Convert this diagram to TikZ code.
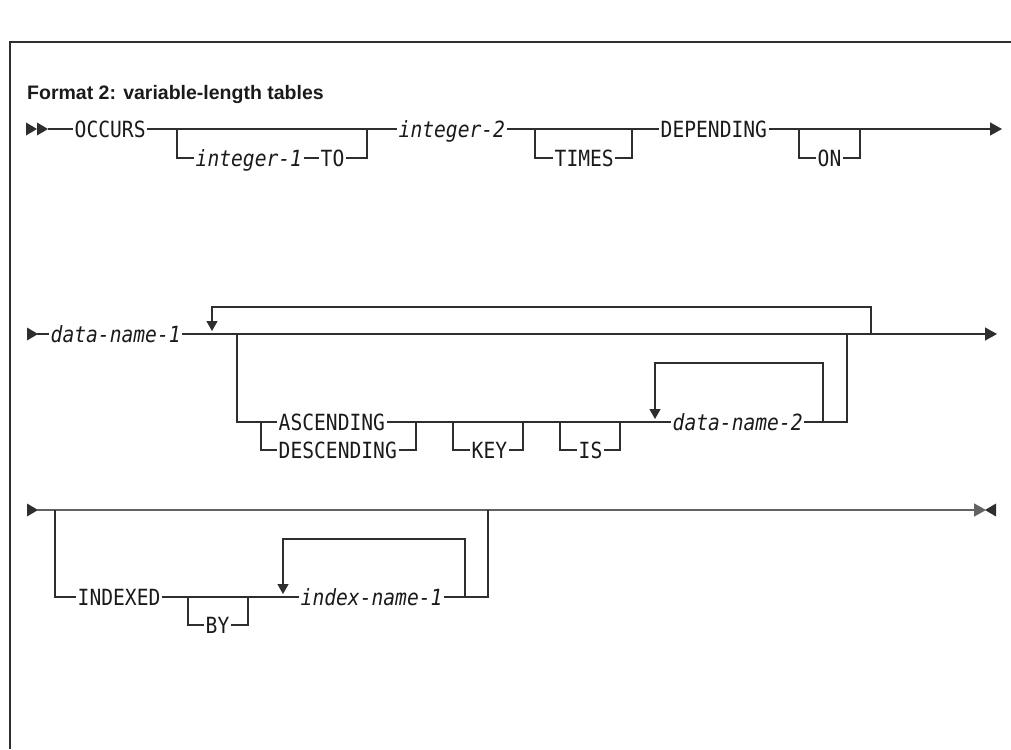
\documentclass[tikz,border=0pt]{standalone}
\usepackage{fontspec}
\usepackage{xcolor}
\usepackage{tikz}
\usetikzlibrary{arrows.meta,positioning,calc}
\newfontfamily\rrfont{DejaVu Sans Mono}[FakeStretch=0.88,ItalicFont={DejaVu Sans Mono Oblique}]
\newfontfamily\headfont{Liberation Sans}
\definecolor{ink}{HTML}{1A1A1A}
\definecolor{railc}{HTML}{2E2E2E}
\definecolor{railgray}{HTML}{626262}
\tikzset{
  rr/.style={font=\rrfont\fontsize{22.3}{26}\selectfont,text=ink,inner sep=0pt,inner xsep=1.5pt,
    text height=16.2pt,text depth=0pt,anchor=west},
  var/.style={rr,font=\rrfont\itshape\fontsize{22.3}{26}\selectfont},
  rail/.style={draw=railc,line width=1.3pt},
  rail3/.style={draw=railgray,line width=1.6pt},
  loopback/.style={rail,-{Triangle[length=10pt,width=11pt]},shorten >=3pt},
  rowend/.style={-{Triangle[length=12pt,width=13pt]}},
  pics/tipr/.style={code={\fill[railc] (0,-6.5) -- (11,0) -- (0,6.5) -- cycle;}},
  pics/tipl/.style={code={\fill[railc] (11,-6.5) -- (0,0) -- (11,6.5) -- cycle;}},
}

\begin{document}
\begin{tikzpicture}[x=1pt,y=-1pt]
  \useasboundingbox (0,0) rectangle (1011,749);
  \draw[draw=railc,line width=1.5pt] (10,749) |- (1011,42);
  \node[anchor=base west,inner sep=0pt,text=ink,font=\headfont\bfseries\fontsize{19.5}{23}\selectfont]
    (title) at (27,100) {Format 2: variable-length tables};

  % row 1
  \pic at (26,129) {tipr};
  \pic at (37,129) {tipr};
  \coordinate (s1) at (48,129);
  \node[rr] (occ) at (73,129) {OCCURS};
  \node[var] (inta) at (194,158) {integer-1};
  \node[rr] (to) at (319,158) {TO};
  \node[var] (intb) at (397,129) {integer-2};
  \node[rr] (tms) at (553,158) {TIMES};
  \node[rr] (dep) at (659,129) {DEPENDING};
  \node[rr] (on) at (816,158) {ON};
  \coordinate (b1) at (177,129); \coordinate (j1) at (367,129);
  \coordinate (b2) at (535,129); \coordinate (j2) at (632,129);
  \coordinate (b3) at (799,129); \coordinate (j3) at (860,129);
  \coordinate (e1) at (1002,129);
  \draw[rail] (s1) -- (occ.west);
  \draw[rail] (occ.east) -- (intb.west);
  \draw[rail] (b1) |- (inta.west);
  \draw[rail] (inta.east) -- (to.west);
  \draw[rail] (to.east) -| (j1);
  \draw[rail] (intb.east) -- (dep.west);
  \draw[rail] (b2) |- (tms.west);
  \draw[rail] (tms.east) -| (j2);
  \draw[rail,rowend] (dep.east) -- (e1);
  \draw[rail] (b3) |- (on.west);
  \draw[rail] (on.east) -| (j3);

  % row 2
  \pic at (27,334) {tipr};
  \coordinate (s2) at (37,334);
  \node[var] (dna) at (49,334) {data-name-1};
  \node[rr] (asc) at (277,422) {ASCENDING};
  \node[rr] (desc) at (277,450) {DESCENDING};
  \node[rr] (key) at (470,450) {KEY};
  \node[rr] (is) at (577,450) {IS};
  \node[var] (dnb) at (671,422) {data-name-2};
  \coordinate (g2) at (237,334); \coordinate (gj2) at (847,334);
  \coordinate (rp2l) at (212,334); \coordinate (rp2r) at (871,334);
  \coordinate (bd) at (261,422); \coordinate (jd) at (416,422);
  \coordinate (bk) at (453,422); \coordinate (jk) at (523,422);
  \coordinate (bi) at (560,422); \coordinate (ji) at (620,422);
  \coordinate (rpbl) at (655,422); \coordinate (rpbr) at (823,422);
  \coordinate (e2) at (997,334);
  \draw[rail] (s2) -- (dna.west);
  \draw[rail,rowend] (dna.east) -- (e2);
  \draw[loopback] (rp2r) -- ++(0,-27) -| (rp2l);
  \draw[rail] (g2) |- (asc.west);
  \draw[rail] (bd) |- (desc.west);
  \draw[rail] (desc.east) -| (jd);
  \draw[rail] (asc.east) -- (dnb.west);
  \draw[rail] (bk) |- (key.west);
  \draw[rail] (key.east) -| (jk);
  \draw[rail] (bi) |- (is.west);
  \draw[rail] (is.east) -| (ji);
  \draw[rail] (dnb.east) -| (gj2);
  \draw[loopback] (rpbr) -- ++(0,-59) -| (rpbl);

  % row 3
  \pic at (27,510) {tipr};
  \pic at (985,510) {tipl};
  \coordinate (s3) at (37,510); \coordinate (e3) at (986,510);
  \node[rr] (idx) at (76,597) {INDEXED};
  \node[rr] (by) at (204,625) {BY};
  \node[var] (inm) at (299,597) {index-name-1};
  \coordinate (g3) at (55,510); \coordinate (gj3) at (488,510);
  \coordinate (bb) at (188,597); \coordinate (jb) at (248,597);
  \coordinate (rp3l) at (283,597); \coordinate (rp3r) at (465,597);
  \draw[rail3,rowend] (s3) -- (e3);
  \draw[rail] (g3) |- (idx.west);
  \draw[rail] (idx.east) -- (inm.west);
  \draw[rail] (bb) |- (by.west);
  \draw[rail] (by.east) -| (jb);
  \draw[rail] (inm.east) -| (gj3);
  \draw[loopback] (rp3r) -- ++(0,-58) -| (rp3l);
\end{tikzpicture}
\end{document}
